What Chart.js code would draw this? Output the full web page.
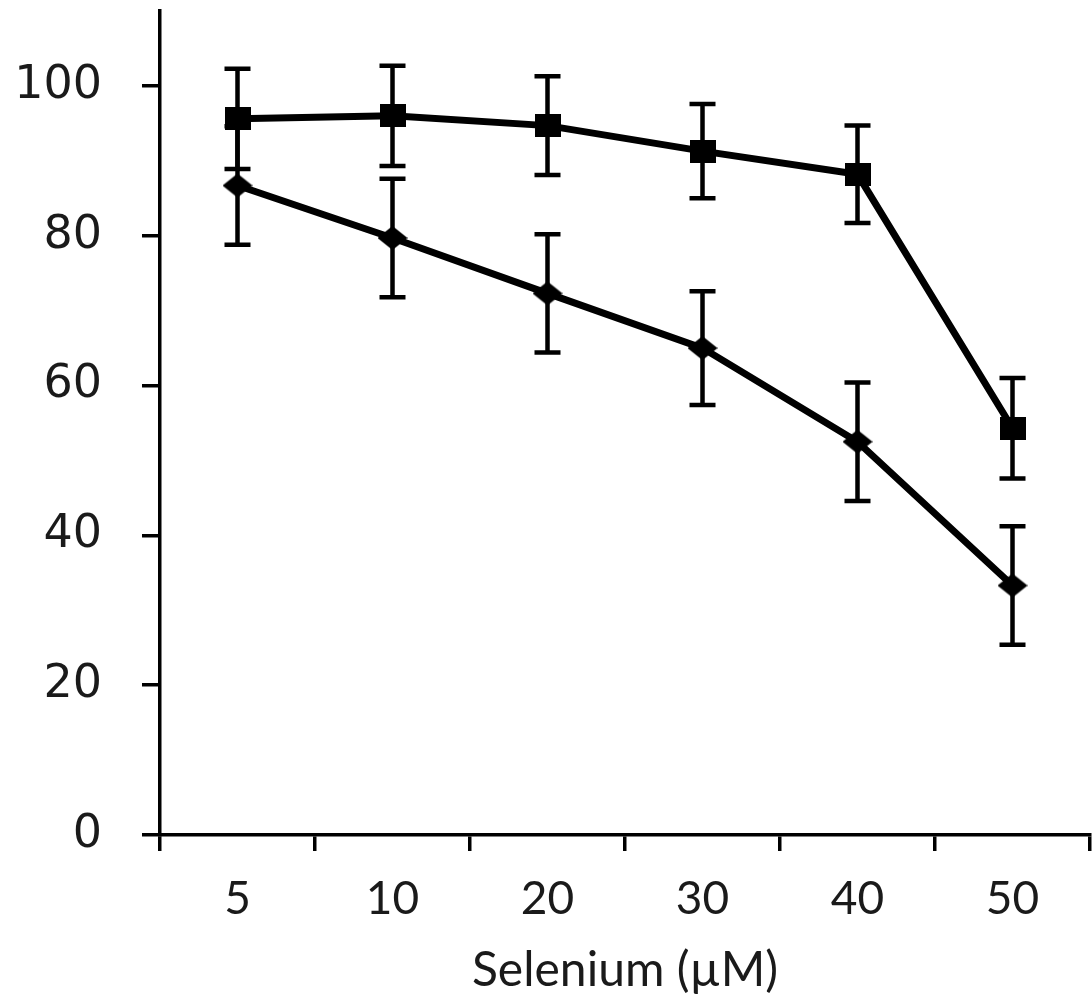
<!DOCTYPE html>
<html><head><meta charset="utf-8">
<script src="https://cdn.jsdelivr.net/npm/chart.js@4.4.1/dist/chart.umd.min.js"></script>
<style>html,body{margin:0;padding:0;background:#fff;} #wrap{width:1092px;height:999px;}</style>
</head><body><div id="wrap"><canvas id="c" width="1092" height="999"></canvas></div>
<script>
const categories = ['5', '10', '20', '30', '40', '50'];
const squareValues = [95.6, 96.0, 94.7, 91.3, 88.2, 54.3];
const squareErrors = [6.7, 6.7, 6.6, 6.3, 6.5, 6.7];
const diamondValues = [86.7, 79.7, 72.3, 65.0, 52.5, 33.3];
const diamondErrors = [7.9, 7.9, 7.9, 7.6, 7.9, 7.9];
const yTickValues = [0, 20, 40, 60, 80, 100];
const xTitle = 'Selenium (µM)';

function makeMarker(shape, w, h) {
  const c = document.createElement('canvas');
  c.width = w; c.height = h;
  const g = c.getContext('2d');
  g.fillStyle = '#000';
  g.beginPath();
  if (shape === 'square') { g.rect(0, 0, w, h); }
  else { g.moveTo(w / 2, 0); g.lineTo(w, h / 2); g.lineTo(w / 2, h); g.lineTo(0, h / 2); g.closePath(); }
  g.fill();
  return c;
}
const squareMarker = makeMarker('square', 26, 23);
const diamondMarker = makeMarker('diamond', 30, 24);

const errorBarPlugin = {
  id: 'errorBars',
  beforeDatasetsDraw(chart) {
    const ctx = chart.ctx, ys = chart.scales.y;
    chart.data.datasets.forEach((ds, i) => {
      const meta = chart.getDatasetMeta(i);
      meta.data.forEach((pt, j) => {
        const v = ds.data[j], e = ds.errorBars[j];
        const top = ys.getPixelForValue(v + e), bot = ys.getPixelForValue(v - e);
        ctx.save();
        ctx.strokeStyle = '#000';
        ctx.lineWidth = 4.5;
        ctx.beginPath();
        ctx.moveTo(pt.x, top); ctx.lineTo(pt.x, bot);
        ctx.moveTo(pt.x - 13, top); ctx.lineTo(pt.x + 13, top);
        ctx.moveTo(pt.x - 13, bot); ctx.lineTo(pt.x + 13, bot);
        ctx.stroke();
        ctx.restore();
      });
    });
  }
};

function noPad(scale) {
  scale.paddingTop = 0; scale.paddingBottom = 0; scale.paddingLeft = 0; scale.paddingRight = 0;
}

new Chart(document.getElementById('c'), {
  type: 'line',
  data: {
    labels: categories,
    datasets: [
      { label: 'A', data: squareValues, errorBars: squareErrors, borderColor: '#000', borderWidth: 7,
        pointStyle: squareMarker, pointRadius: 12, pointBackgroundColor: '#000', pointBorderColor: '#000', fill: false, tension: 0, clip: false },
      { label: 'B', data: diamondValues, errorBars: diamondErrors, borderColor: '#000', borderWidth: 7,
        pointStyle: diamondMarker, pointRadius: 12, pointBackgroundColor: '#000', pointBorderColor: '#000', fill: false, tension: 0, clip: false }
    ]
  },
  options: {
    responsive: false,
    animation: false,
    devicePixelRatio: 1,
    layout: { autoPadding: false, padding: { top: 11, right: 2, left: 0, bottom: 0 } },
    plugins: { legend: { display: false }, tooltip: { enabled: false } },
    scales: {
      x: {
        type: 'category',
        offset: true,
        grid: { display: true, offset: true, drawOnChartArea: false, drawTicks: true, tickLength: 16, color: '#000', lineWidth: 3.5 },
        border: { display: true, color: '#000', width: 3.5 },
        ticks: { color: '#1a1a1a', padding: 21, font: { family: 'Lato', size: 46 }, maxRotation: 0, autoSkip: false },
        title: { display: true, text: xTitle, color: '#1a1a1a', font: { family: 'Lato', size: 48, lineHeight: 1 }, padding: { top: 0, bottom: 4 } },
        afterFit(scale) { scale.height = 164; noPad(scale); }
      },
      y: {
        min: 0, max: 110,
        grid: { display: true, drawOnChartArea: false, drawTicks: true, tickLength: 18, color: '#000', lineWidth: 3.5 },
        border: { display: true, color: '#000', width: 3.5 },
        ticks: { color: '#1a1a1a', padding: 40, font: { family: 'DejaVu Sans', size: 46 } },
        afterBuildTicks(scale) { scale.ticks = yTickValues.map(v => ({ value: v })); },
        afterFit(scale) { scale.width = 160; noPad(scale); }
      }
    }
  },
  plugins: [errorBarPlugin]
});
</script>
</body></html>
